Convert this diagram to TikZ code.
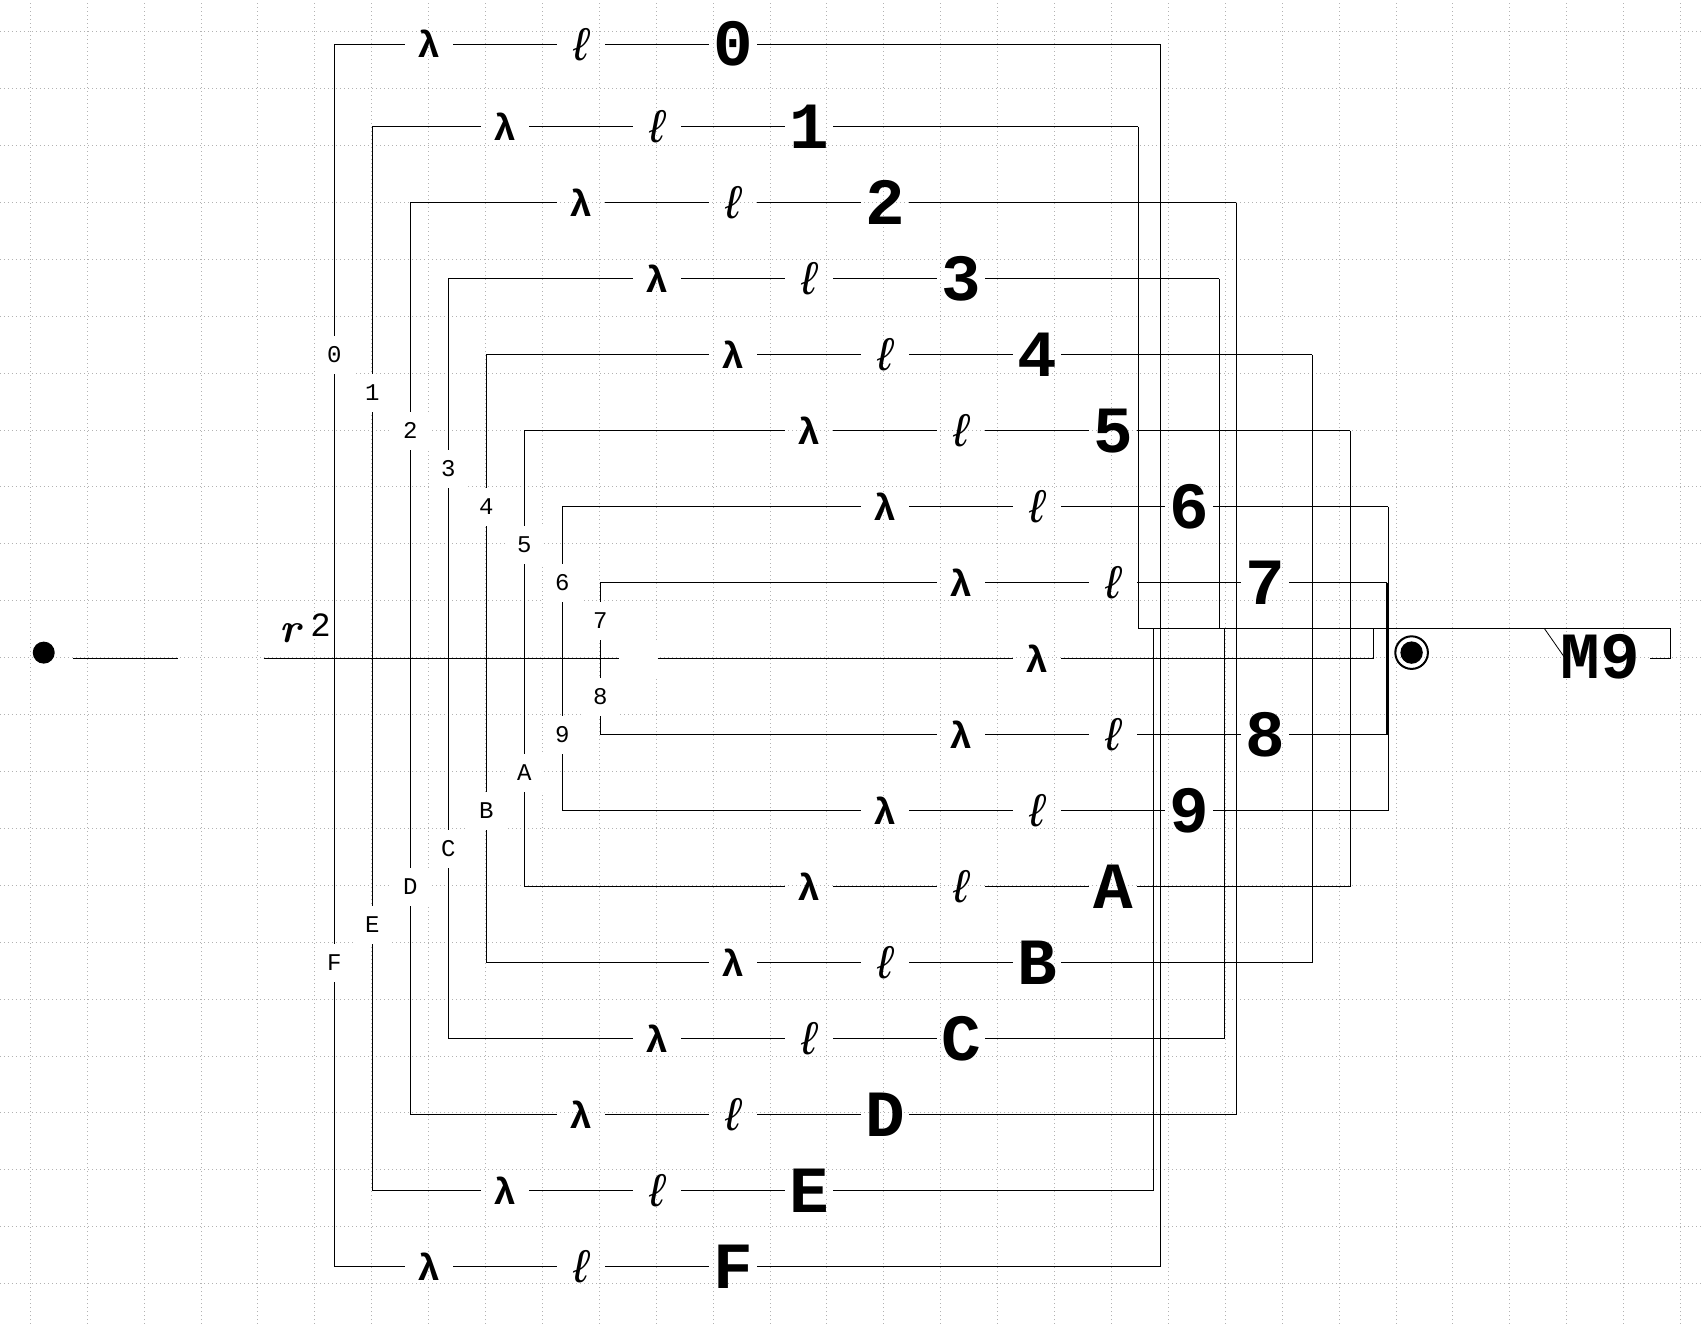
\documentclass[tikz,border=0pt]{standalone}
\usepackage{fontspec}
\newfontfamily\courfont{Liberation Mono}
\tikzset{>=stealth}
\tikzset{
  gridline/.style={black!30, line width=0.5pt, dash pattern=on 0.5pt off 1.5pt},
  wire/.style={line width=0.6pt},
  lam/.style={inner sep=0pt, minimum width=23.5pt, font=\courfont\fontsize{19}{19}\selectfont\bfseries},
  ell/.style={inner sep=0pt, minimum width=23.5pt, font=\courfont\fontsize{23}{23}\selectfont\itshape},
  big/.style={inner sep=0pt, minimum width=23.5pt, font=\courfont\fontsize{33}{33}\selectfont\bfseries},
  tag/.style={inner sep=0pt, minimum size=19pt, fill=white, font=\courfont\fontsize{12}{12}\selectfont},
}

\begin{document}
\begin{tikzpicture}[x=19pt,y=19pt]
\fill[white] (-0.797,-34.008) rectangle (44.045,0.834);
\useasboundingbox (-0.797,-34.008) rectangle (44.045,0.834);
\draw[gridline] (-0.797,-34.008) grid (44.045,0.834);
\foreach \n/\m/\y/\rx in {0/0/-0.33/29.74, 1/1/-2.5/29.16, 2/2/-4.5/31.74, 3/3/-6.5/31.29,
  4/4/-8.5/33.74, 5/5/-10.5/34.74, 6/6/-12.5/35.74, 7/7/-14.5/35.70,
  8/7/-18.5/35.70, 9/6/-20.5/35.74, A/5/-22.5/34.74, B/4/-24.5/33.74,
  C/3/-26.5/31.43, D/2/-28.5/31.74, E/1/-30.5/29.55, F/0/-32.5/29.74}{
\coordinate (L\n) at (8+\m,\y);
\coordinate (R\n) at (\rx,\y);
\node[lam] (lam\n) at (10.5+2*\m,\y) {λ};
\node[ell] (ell\n) at (14.5+2*\m,\y) {ℓ};
\node[big] (sym\n) at (18.5+2*\m,\y) {\n};
\draw[wire] (L\n) -- (lam\n) (lam\n) -- (ell\n) (ell\n) -- (sym\n) (sym\n) -- (R\n);
}
\foreach \a/\b in {0/F,1/E,2/D,3/C,4/B,5/A,6/9,7/8}
\draw[wire] (L\a) -- (L\b);
\foreach \n/\x/\y in {0/8/-8.5, 1/9/-9.5, 2/10/-10.5, 3/11/-11.5, 4/12/-12.5, 5/13/-13.5,
  6/14/-14.5, 7/15/-15.5, 8/15/-17.5, 9/14/-18.5, A/13/-19.5, B/12/-20.5,
  C/11/-21.5, D/10/-22.5, E/9/-23.5, F/8/-24.5}
\node[tag] (tag\n) at (\x,\y) {\n};
\coordinate (K) at (29.16,-15.70);
\foreach \a/\b in {0/F,2/D,4/B,5/A,6/9,7/8}
\draw[wire] (R\a) -- (R\b);
\foreach \a in {1,3,C,E}
\draw[wire] (R\a) -- (R\a |- K);
\node[circle, fill=black, inner sep=0pt, minimum size=11pt] (start) at (0.354,-16.34) {};
\coordinate (m0) at (1.12,-16.5);
\coordinate (m1) at (3.88,-16.5);
\coordinate (m2) at (6.14,-16.5);
\node[tag] (hole) at (16,-16.5) {};
\node[lam] (lamM) at (26.5,-16.5) {λ};
\coordinate (mR) at (35.34,-16.5);
\draw[wire] (m0) -- (m1);
\draw[wire] (m2) -- (hole) (hole) -- (lamM) (lamM) -- (mR) -- (mR |- K);
\node[font=\fontsize{21}{21}\selectfont\bfseries\itshape] (rsym) at (6.84,-15.83) {r};
\node[font=\courfont\fontsize{17}{17}\selectfont] (rexp) at (7.64,-15.61) {2};
\node[circle, draw, line width=1pt, inner sep=0pt, minimum size=16.3pt] (final) at (36.35,-16.34) {};
\fill (final.center) circle (5.6pt);
\node[big, inner xsep=5pt] (M9) at (41.31,-16.45) {M9};
\coordinate (K1) at (43.17,-15.70);
\coordinate (K2) at (43.17,-16.49);
\coordinate (Kd) at (39.84,-15.70);
\coordinate (Ke) at (40.39,-16.49);
\draw[wire] (K) -- (K1) -- (K2) -- (K2 -| M9.east);
\draw[line width=0.4pt] (Kd) -- (Ke);
\end{tikzpicture}
\end{document}
